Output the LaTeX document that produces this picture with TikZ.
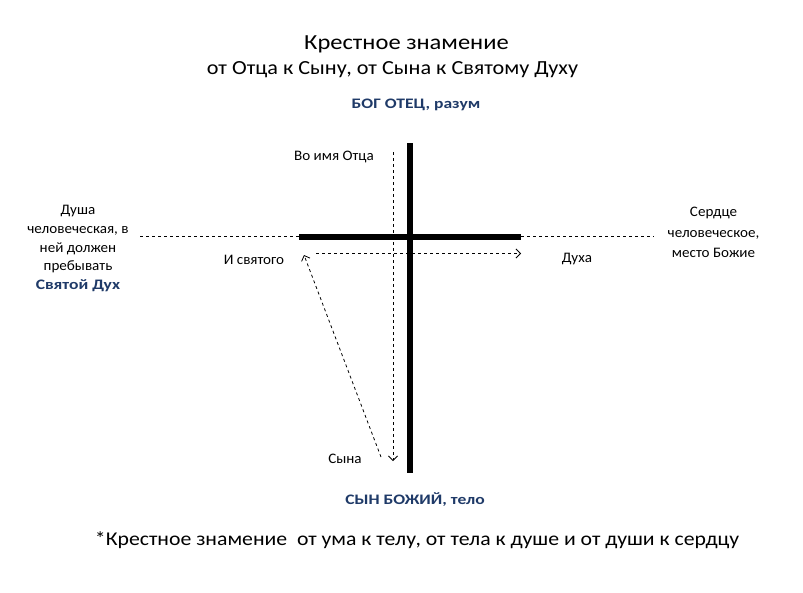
\documentclass[tikz,border=0pt]{standalone}
\usepackage{fontspec}
\usepackage{graphicx}
\setmainfont{Carlito}
\usetikzlibrary{arrows.meta}
\definecolor{godblue}{HTML}{1F3A68}
\newcommand{\hsm}[1]{\scalebox{1.04}[1]{#1}}
\newcommand{\hbl}[1]{\scalebox{1.21}[1]{#1}}
\begin{document}
\begin{tikzpicture}[x=1pt,y=-1pt,
  lbl/.style={font=\fontsize{14.5}{16}\selectfont, inner sep=0pt},
  blocktxt/.style={font=\fontsize{14.5}{18.8}\selectfont, align=center, inner sep=0pt},
  bluelbl/.style={font=\fontsize{14.5}{16}\selectfont\bfseries, text=godblue, inner sep=0pt},
  barline/.style={line width=6pt},
  dashline/.style={line width=0.8pt, dash pattern=on 3pt off 3pt},
  dasharrow/.style={dashline, -{Straight Barb[length=4.5pt,width=9pt,line width=0.8pt]}}
]
\useasboundingbox[fill=white] (0,0) rectangle (803,592);
% titles
\node[font=\fontsize{21.5}{24}\selectfont, inner sep=0pt] (title) at (406.5,44) {\scalebox{1.14}[1]{Крестное знамение}};
\node[font=\fontsize{20}{22}\selectfont, inner sep=0pt] (subtitle) at (392.5,70) {\scalebox{1.11}[1]{от Отца к Сыну, от Сына к Святому Духу}};
\node[bluelbl] (god) at (416,105) {\hbl{БОГ ОТЕЦ, разум}};
\node[bluelbl] (son) at (415,500) {\hbl{СЫН БОЖИЙ, тело}};
\node[font=\fontsize{19.5}{22}\selectfont, inner sep=0pt] (note) at (417,540) {\scalebox{1.115}[1]{*Крестное знамение\ \ от ума к телу, от тела к душе и от души к сердцу}};
% cross
\coordinate (vtop) at (410,143);
\coordinate (vbot) at (410,473);
\coordinate (hleft) at (299,236.5);
\coordinate (hright) at (521,236.5);
\draw[barline] (vtop) -- (vbot);
\draw[barline] (hleft) -- (hright);
% side texts
\node[blocktxt] (soul) at (78,248.5) {\hsm{Душа}\\\hsm{человеческая, в}\\\hsm{ней должен}\\\hsm{пребывать}\\{\bfseries\color{godblue}\hbl{Святой Дух}}};
\node[blocktxt, font=\fontsize{14.5}{20.5}\selectfont] (heart) at (713.5,232.5) {\hsm{Сердце}\\\hsm{человеческое,}\\\hsm{место Божие}};
\coordinate (dl) at (140,236.5);
\coordinate (dr) at (654,236.5);
\draw[dashline] (dl) -- (hleft);
\draw[dashline] (hright) -- (dr);
% labels
\node[lbl] (father) at (334,157) {\hsm{Во имя Отца}};
\node[lbl] (holy) at (254,260) {\hsm{И святого}};
\node[lbl] (spirit) at (577,259) {\hsm{Духа}};
\node[lbl] (sonlbl) at (345,459) {\hsm{Сына}};
% movement arrows
\coordinate (a1) at (393,152);
\coordinate (a2) at (393,461);
\coordinate (b1) at (381,457);
\coordinate (b2) at (304,255);
\coordinate (c1) at (316,253.5);
\coordinate (c2) at (521,253.5);
\draw[dasharrow] (a1) -- (a2);
\draw[dasharrow] (b1) -- (b2);
\draw[dasharrow] (c1) -- (c2);
\end{tikzpicture}
\end{document}
